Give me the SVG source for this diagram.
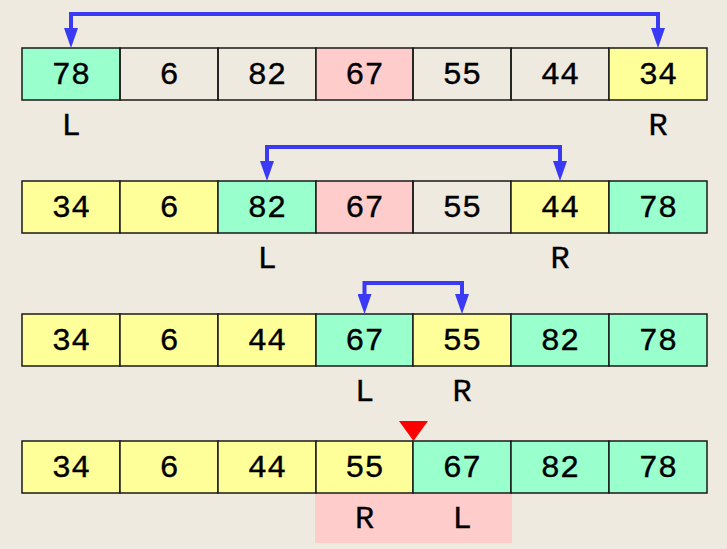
<svg xmlns="http://www.w3.org/2000/svg" width="727" height="549" viewBox="0 0 727 549">
<style>
.c{stroke:#1a1a1a;stroke-width:1.5}
.w{fill:none}
.g{fill:#99FFCC}
.y{fill:#FFFF99}
.p{fill:#FFCCCC}
text{font-family:"Liberation Mono","Courier New",monospace;font-size:32px;fill:#000;stroke:#000;stroke-width:0.35;text-anchor:middle}
.arr{fill:none;stroke:#3A3AF5;stroke-width:4;marker-start:url(#ah);marker-end:url(#ah)}
</style>
<defs>
<marker id="ah" markerUnits="userSpaceOnUse" viewBox="0 0 20 14" refX="10" refY="7" markerWidth="20" markerHeight="14" orient="auto-start-reverse">
<path d="M0,0 L20,7 L0,14 z" fill="#3A3AF5"/>
</marker>
</defs>
<rect width="727" height="549" fill="#EEEADF"/>

<g id="row1">
<g id="r1c1"><rect class="c g" x="22" y="48" width="98" height="52"/><text x="71" y="84">78</text></g>
<g id="r1c2"><rect class="c w" x="120" y="48" width="98" height="52"/><text x="169" y="84">6</text></g>
<g id="r1c3"><rect class="c w" x="218" y="48" width="98" height="52"/><text x="267" y="84">82</text></g>
<g id="r1c4"><rect class="c p" x="316" y="48" width="97" height="52"/><text x="364.5" y="84">67</text></g>
<g id="r1c5"><rect class="c w" x="413" y="48" width="98" height="52"/><text x="462" y="84">55</text></g>
<g id="r1c6"><rect class="c w" x="511" y="48" width="98" height="52"/><text x="560" y="84">44</text></g>
<g id="r1c7"><rect class="c y" x="609" y="48" width="98" height="52"/><text x="658" y="84">34</text></g>
<g id="r1L"><text x="71" y="135">L</text></g>
<g id="r1R"><text x="658" y="135">R</text></g>
</g>

<g id="row2">
<g id="r2c1"><rect class="c y" x="22" y="181" width="98" height="52"/><text x="71" y="217">34</text></g>
<g id="r2c2"><rect class="c y" x="120" y="181" width="98" height="52"/><text x="169" y="217">6</text></g>
<g id="r2c3"><rect class="c g" x="218" y="181" width="98" height="52"/><text x="267" y="217">82</text></g>
<g id="r2c4"><rect class="c p" x="316" y="181" width="97" height="52"/><text x="364.5" y="217">67</text></g>
<g id="r2c5"><rect class="c w" x="413" y="181" width="98" height="52"/><text x="462" y="217">55</text></g>
<g id="r2c6"><rect class="c y" x="511" y="181" width="98" height="52"/><text x="560" y="217">44</text></g>
<g id="r2c7"><rect class="c g" x="609" y="181" width="98" height="52"/><text x="658" y="217">78</text></g>
<g id="r2L"><text x="267" y="268">L</text></g>
<g id="r2R"><text x="560" y="268">R</text></g>
</g>

<g id="row3">
<g id="r3c1"><rect class="c y" x="22" y="314" width="98" height="52"/><text x="71" y="350">34</text></g>
<g id="r3c2"><rect class="c y" x="120" y="314" width="98" height="52"/><text x="169" y="350">6</text></g>
<g id="r3c3"><rect class="c y" x="218" y="314" width="98" height="52"/><text x="267" y="350">44</text></g>
<g id="r3c4"><rect class="c g" x="316" y="314" width="97" height="52"/><text x="364.5" y="350">67</text></g>
<g id="r3c5"><rect class="c y" x="413" y="314" width="98" height="52"/><text x="462" y="350">55</text></g>
<g id="r3c6"><rect class="c g" x="511" y="314" width="98" height="52"/><text x="560" y="350">82</text></g>
<g id="r3c7"><rect class="c g" x="609" y="314" width="98" height="52"/><text x="658" y="350">78</text></g>
<g id="r3L"><text x="364.5" y="401">L</text></g>
<g id="r3R"><text x="462" y="401">R</text></g>
</g>

<g id="row4">
<g id="pinkband"><rect class="p" x="315" y="493" width="197" height="50"/></g>
<g id="r4c1"><rect class="c y" x="22" y="441" width="98" height="52"/><text x="71" y="477">34</text></g>
<g id="r4c2"><rect class="c y" x="120" y="441" width="98" height="52"/><text x="169" y="477">6</text></g>
<g id="r4c3"><rect class="c y" x="218" y="441" width="98" height="52"/><text x="267" y="477">44</text></g>
<g id="r4c4"><rect class="c y" x="316" y="441" width="97" height="52"/><text x="364.5" y="477">55</text></g>
<g id="r4c5"><rect class="c g" x="413" y="441" width="98" height="52"/><text x="462" y="477">67</text></g>
<g id="r4c6"><rect class="c g" x="511" y="441" width="98" height="52"/><text x="560" y="477">82</text></g>
<g id="r4c7"><rect class="c g" x="609" y="441" width="98" height="52"/><text x="658" y="477">78</text></g>
<g id="r4R"><text x="364.5" y="528">R</text></g>
<g id="r4L"><text x="462" y="528">L</text></g>
<g id="pivot"><polygon points="399,421 428,421 413.5,441" fill="#FF0000"/></g>
</g>

<g id="connectors">
<path class="arr" d="M71,38 V14 H658 V38"/>
<path class="arr" d="M267,171 V147 H560 V171"/>
<path class="arr" d="M364.5,304 V283 H462 V304"/>
</g>
</svg>
